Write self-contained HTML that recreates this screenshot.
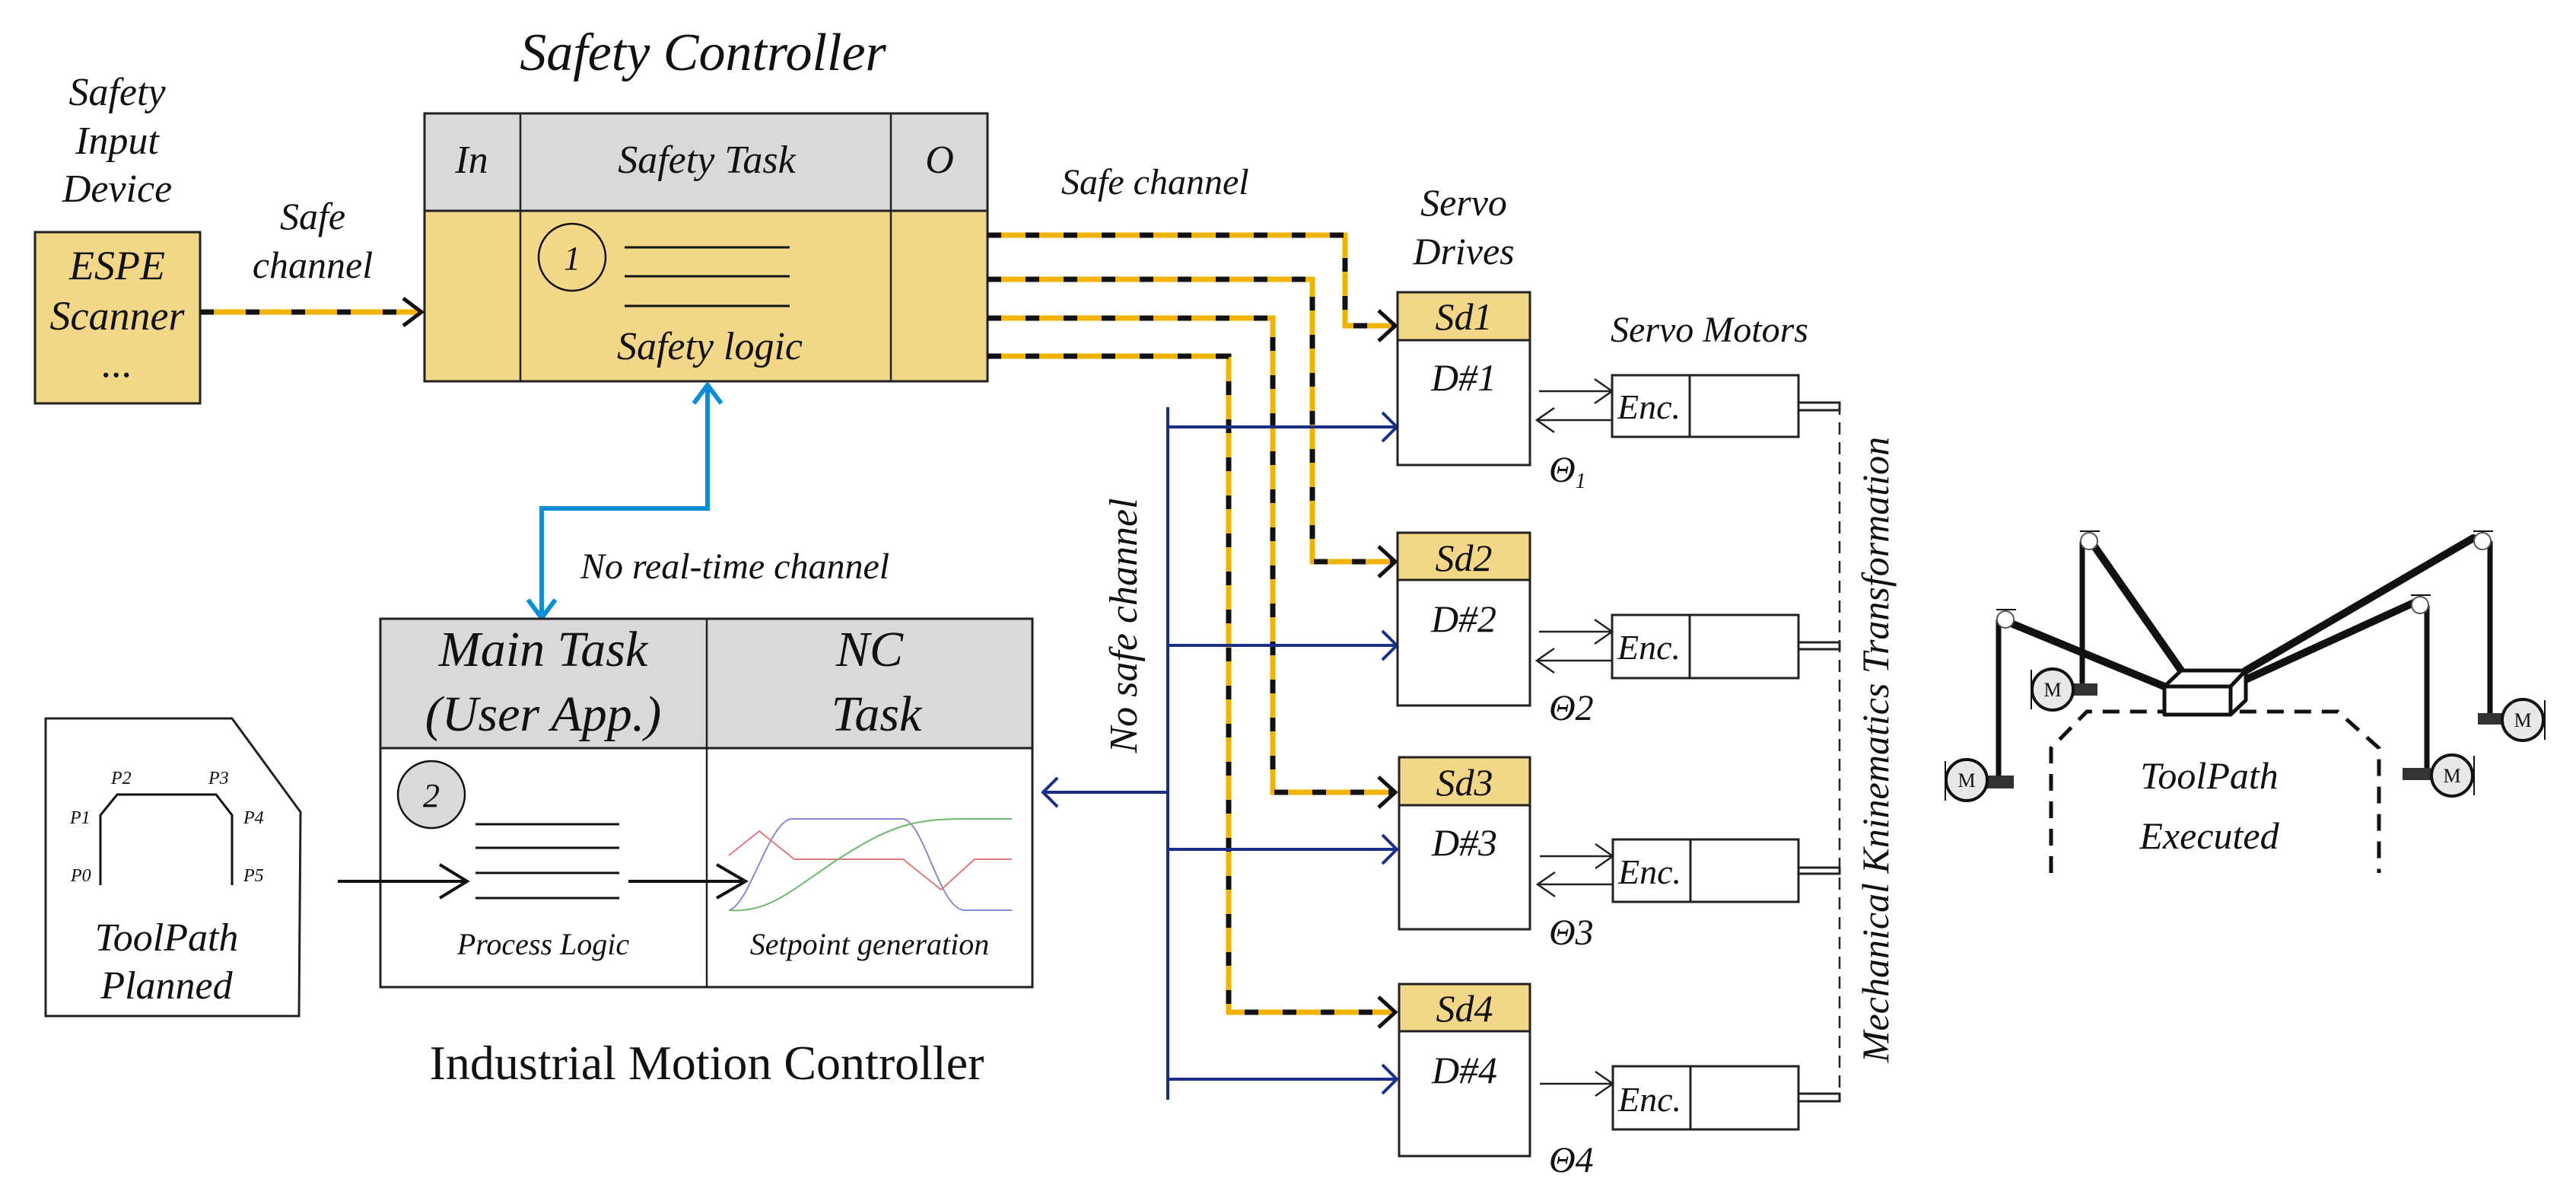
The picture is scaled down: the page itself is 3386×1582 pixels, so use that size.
<!DOCTYPE html>
<html><head><meta charset="utf-8"><style>
html,body{margin:0;padding:0;background:#fff}
svg{display:block}
text{font-family:"Liberation Serif",serif;font-style:italic;fill:#111}
text.up{font-style:normal}
</style></head><body>
<svg width="3386" height="1582" viewBox="0 0 3386 1582" xmlns="http://www.w3.org/2000/svg">

<!-- Safety Input Device -->
<g font-size="52" text-anchor="middle">
<text x="154" y="138">Safety</text><text x="154" y="202">Input</text><text x="154" y="265">Device</text>
</g>
<rect x="46" y="305" width="217" height="225" fill="#f3d788" stroke="#222" stroke-width="3"/>
<g font-size="54" text-anchor="middle">
<text x="154" y="367">ESPE</text><text x="154" y="433">Scanner</text><text x="154" y="495">...</text>
</g>
<g font-size="50" text-anchor="middle"><text x="411" y="301">Safe</text><text x="411" y="365">channel</text></g>

<line x1="263" y1="410" x2="552" y2="410" stroke="#f0b400" stroke-width="7"/>
<line x1="263" y1="410" x2="552" y2="410" stroke="#111" stroke-width="7" stroke-dasharray="18 42"/>
<path d="M530,392 L554,410 L530,428" fill="none" stroke="#111" stroke-width="5"/>

<!-- Safety controller -->
<text x="924" y="92" font-size="70" text-anchor="middle">Safety Controller</text>
<rect x="558" y="149" width="740" height="128" fill="#d9d9d9"/>
<rect x="558" y="277" width="740" height="224" fill="#f3d788"/>
<rect x="558" y="149" width="740" height="352" fill="none" stroke="#222" stroke-width="3"/>
<line x1="558" y1="277" x2="1298" y2="277" stroke="#222" stroke-width="3"/>
<line x1="684" y1="149" x2="684" y2="501" stroke="#222" stroke-width="2.5"/>
<line x1="1171" y1="149" x2="1171" y2="501" stroke="#222" stroke-width="2.5"/>
<g font-size="52" text-anchor="middle">
<text x="620" y="227">In</text><text x="929" y="227">Safety Task</text><text x="1235" y="227">O</text>
<text x="933" y="472">Safety logic</text>
</g>
<circle cx="752" cy="338" r="44" fill="none" stroke="#111" stroke-width="2.5"/>
<text x="752" y="354" font-size="44" text-anchor="middle">1</text>
<g stroke="#111" stroke-width="3"><line x1="821" y1="325" x2="1038" y2="325"/><line x1="821" y1="363" x2="1038" y2="363"/><line x1="821" y1="402" x2="1038" y2="402"/></g>

<polyline points="930,508 930,668 712,668 712,806" fill="none" stroke="#0a8fd6" stroke-width="6"/>
<path d="M912,530 L930,506 L948,530" fill="none" stroke="#0a8fd6" stroke-width="6"/>
<path d="M694,788 L712,812 L730,788" fill="none" stroke="#0a8fd6" stroke-width="6"/>
<text x="763" y="760" font-size="48">No real-time channel</text>

<!-- Industrial motion controller -->
<rect x="500" y="813" width="857" height="170" fill="#d9d9d9"/>
<rect x="500" y="813" width="857" height="484" fill="none" stroke="#222" stroke-width="3"/>
<line x1="500" y1="983" x2="1357" y2="983" stroke="#222" stroke-width="3"/>
<line x1="929" y1="813" x2="929" y2="1297" stroke="#222" stroke-width="2.5"/>
<g font-size="66" text-anchor="middle">
<text x="714" y="875">Main Task</text><text x="714" y="960">(User App.)</text>
<text x="1143" y="875">NC</text><text x="1152" y="960">Task</text>
</g>
<circle cx="567" cy="1044" r="44" fill="#d9d9d9" stroke="#111" stroke-width="2.5"/>
<text x="567" y="1060" font-size="44" text-anchor="middle">2</text>
<g stroke="#111" stroke-width="3"><line x1="625" y1="1083" x2="814" y2="1083"/><line x1="625" y1="1114" x2="814" y2="1114"/><line x1="625" y1="1147" x2="814" y2="1147"/><line x1="625" y1="1180" x2="814" y2="1180"/></g>
<line x1="444" y1="1158" x2="612" y2="1158" stroke="#111" stroke-width="4"/>
<path d="M578,1136 L614,1158 L578,1180" fill="none" stroke="#111" stroke-width="4"/>
<line x1="826" y1="1158" x2="978" y2="1158" stroke="#111" stroke-width="4"/>
<path d="M942,1136 L980,1158 L942,1180" fill="none" stroke="#111" stroke-width="4"/>
<g font-size="40" text-anchor="middle"><text x="714" y="1254">Process Logic</text><text x="1143" y="1254">Setpoint generation</text></g>
<polyline points="958,1124 998,1092 1044,1129 1187,1129 1237,1169 1281,1129 1330,1129" fill="none" stroke="#e07a7a" stroke-width="2"/>
<path d="M958,1196 C985,1190 1010,1080 1040,1076 L1187,1076 C1215,1080 1235,1196 1268,1196 L1330,1196" fill="none" stroke="#8888cc" stroke-width="2"/>
<path d="M958,1196 C1010,1200 1040,1170 1100,1130 C1170,1085 1200,1076 1268,1076 L1330,1076" fill="none" stroke="#6cb86c" stroke-width="2"/>
<text class="up" x="929" y="1418" font-size="64" text-anchor="middle">Industrial Motion Controller</text>

<!-- ToolPath planned -->
<polygon points="60,944 305,944 395,1067 393,1335 60,1335" fill="#fff" stroke="#222" stroke-width="3"/>
<polyline points="132,1163 132,1071 154,1044 284,1044 305,1071 305,1163" fill="none" stroke="#111" stroke-width="3"/>
<g font-size="24"><text x="146" y="1030">P2</text><text x="274" y="1030">P3</text><text x="92" y="1082">P1</text><text x="320" y="1082">P4</text><text x="93" y="1158">P0</text><text x="320" y="1158">P5</text></g>
<g font-size="52" text-anchor="middle"><text x="219" y="1249">ToolPath</text><text x="219" y="1312">Planned</text></g>

<!-- Safe channels to drives -->
<text x="1395" y="255" font-size="48">Safe channel</text>
<g fill="none" stroke-width="7">
<g stroke="#f0b400">
<polyline points="1298,309 1768,309 1768,428 1830,428"/>
<polyline points="1298,367 1725,367 1725,738 1830,738"/>
<polyline points="1298,418 1673,418 1673,1041 1830,1041"/>
<polyline points="1298,468 1615,468 1615,1330 1830,1330"/>
</g>
<g stroke="#111" stroke-dasharray="18 32">
<polyline points="1298,309 1768,309 1768,428 1830,428"/>
<polyline points="1298,367 1725,367 1725,738 1830,738"/>
<polyline points="1298,418 1673,418 1673,1041 1830,1041"/>
<polyline points="1298,468 1615,468 1615,1330 1830,1330"/>
</g>
</g>
<g fill="none" stroke="#111" stroke-width="5">
<path d="M1812,408 L1834,428 L1812,448"/><path d="M1812,718 L1834,738 L1812,758"/>
<path d="M1812,1021 L1834,1041 L1812,1061"/><path d="M1812,1310 L1834,1330 L1812,1350"/>
</g>

<!-- blue bus -->
<g stroke="#1a2f8a" stroke-width="4" fill="none">
<line x1="1535" y1="535" x2="1535" y2="1445"/>
<line x1="1535" y1="561" x2="1835" y2="561"/><path d="M1817,542 L1836,561 L1817,580"/>
<line x1="1535" y1="848" x2="1835" y2="848"/><path d="M1817,829 L1836,848 L1817,867"/>
<line x1="1535" y1="1116" x2="1835" y2="1116"/><path d="M1817,1097 L1836,1116 L1817,1135"/>
<line x1="1535" y1="1418" x2="1835" y2="1418"/><path d="M1817,1399 L1836,1418 L1817,1437"/>
<line x1="1535" y1="1041" x2="1372" y2="1041"/><path d="M1390,1022 L1371,1041 L1390,1060"/>
</g>
<text transform="translate(1494,822) rotate(-90)" font-size="52" text-anchor="middle">No safe channel</text>

<!-- Drives -->
<g font-size="50" text-anchor="middle"><text x="1924" y="283">Servo</text><text x="1924" y="347">Drives</text></g>
<text x="2247" y="449" font-size="48" text-anchor="middle">Servo Motors</text>
<g stroke="#222" stroke-width="3">
<rect x="1837" y="384" width="174" height="63" fill="#f3d788"/><rect x="1837" y="447" width="174" height="164" fill="#fff"/>
<rect x="1837" y="700" width="174" height="62" fill="#f3d788"/><rect x="1837" y="762" width="174" height="165" fill="#fff"/>
<rect x="1839" y="995" width="172" height="63" fill="#f3d788"/><rect x="1839" y="1058" width="172" height="163" fill="#fff"/>
<rect x="1839" y="1293" width="172" height="62" fill="#f3d788"/><rect x="1839" y="1355" width="172" height="164" fill="#fff"/>
</g>
<g font-size="50" text-anchor="middle">
<text x="1924" y="433">Sd1</text><text x="1924" y="513">D#1</text>
<text x="1924" y="750">Sd2</text><text x="1924" y="830">D#2</text>
<text x="1925" y="1045">Sd3</text><text x="1925" y="1124">D#3</text>
<text x="1925" y="1342">Sd4</text><text x="1925" y="1423">D#4</text>
</g>
<g font-size="48"><text x="2036" y="633">Θ<tspan font-size="28" dy="8">1</tspan></text><text x="2036" y="946">Θ2</text><text x="2036" y="1241">Θ3</text><text x="2036" y="1540">Θ4</text></g>

<!-- Motors -->
<g stroke="#222" stroke-width="3" fill="#fff">
<rect x="2119" y="493" width="245" height="81"/><line x1="2221" y1="493" x2="2221" y2="574"/><rect x="2364" y="529" width="54" height="10"/>
<rect x="2119" y="808" width="245" height="83"/><line x1="2221" y1="808" x2="2221" y2="891"/><rect x="2364" y="844" width="54" height="9"/>
<rect x="2120" y="1103" width="244" height="82"/><line x1="2222" y1="1103" x2="2222" y2="1185"/><rect x="2364" y="1140" width="54" height="8"/>
<rect x="2120" y="1401" width="244" height="83"/><line x1="2222" y1="1401" x2="2222" y2="1484"/><rect x="2364" y="1437" width="54" height="10"/>
</g>
<g font-size="46"><text x="2126" y="550">Enc.</text><text x="2126" y="866">Enc.</text><text x="2127" y="1161">Enc.</text><text x="2127" y="1460">Enc.</text></g>
<g stroke="#222" stroke-width="2.5" fill="none">
<line x1="2023" y1="514" x2="2119" y2="514"/><path d="M2096,498 L2119,514 L2096,530"/>
<line x1="2020" y1="552" x2="2119" y2="552"/><path d="M2043,536 L2020,552 L2043,568"/>
<line x1="2023" y1="830" x2="2119" y2="830"/><path d="M2096,814 L2119,830 L2096,846"/>
<line x1="2020" y1="868" x2="2119" y2="868"/><path d="M2043,852 L2020,868 L2043,884"/>
<line x1="2024" y1="1125" x2="2120" y2="1125"/><path d="M2097,1109 L2120,1125 L2097,1141"/>
<line x1="2021" y1="1162" x2="2120" y2="1162"/><path d="M2044,1146 L2021,1162 L2044,1178"/>
<line x1="2024" y1="1424" x2="2120" y2="1424"/><path d="M2097,1408 L2120,1424 L2097,1440"/>
</g>
<line x1="2418" y1="529" x2="2418" y2="1442" stroke="#222" stroke-width="2.5" stroke-dasharray="16 10"/>
<text transform="translate(2482,985) rotate(-90)" font-size="50" text-anchor="middle">Mechanical Kninematics Transformation</text>

<!-- Robot -->
<g stroke="#111" stroke-width="10" stroke-linecap="round">
<line x1="2751" y1="715" x2="2867" y2="881"/>
<line x1="2641" y1="818" x2="2845" y2="902"/>
<line x1="3251" y1="707" x2="2952" y2="881"/>
<line x1="3175" y1="791" x2="2932" y2="902"/>
</g>
<g stroke="#111" stroke-width="7">
<line x1="2737" y1="711" x2="2737" y2="902"/>
<line x1="2627" y1="814" x2="2627" y2="1025"/>
<line x1="3273" y1="711" x2="3273" y2="944"/>
<line x1="3190" y1="795" x2="3190" y2="1017"/>
</g>
<g fill="#fff" stroke="#555" stroke-width="2">
<circle cx="2746" cy="711" r="11"/><circle cx="2636" cy="814" r="11"/><circle cx="3263" cy="711" r="11"/><circle cx="3181" cy="795" r="11"/>
</g>
<g stroke="#111" stroke-width="2">
<line x1="2734" y1="698" x2="2760" y2="698"/><line x1="2624" y1="801" x2="2650" y2="801"/><line x1="3251" y1="698" x2="3277" y2="698"/><line x1="3169" y1="782" x2="3195" y2="782"/>
<line x1="2670" y1="880" x2="2670" y2="932"/><line x1="2557" y1="1000" x2="2557" y2="1052"/><line x1="3345" y1="920" x2="3345" y2="972"/><line x1="3252" y1="993" x2="3252" y2="1045"/>
</g>
<g fill="#333"><rect x="2723" y="898" width="34" height="16"/><rect x="2610" y="1019" width="37" height="17"/><rect x="3257" y="937" width="34" height="15"/><rect x="3158" y="1009" width="37" height="16"/></g>
<g fill="#e8e8e8" stroke="#111" stroke-width="4">
<circle cx="2698" cy="906" r="27"/><circle cx="2585" cy="1025" r="27"/><circle cx="3316" cy="946" r="27"/><circle cx="3223" cy="1019" r="27"/>
</g>
<g font-size="26" text-anchor="middle">
<text class="up" x="2698" y="915">M</text><text class="up" x="2585" y="1034">M</text><text class="up" x="3316" y="955">M</text><text class="up" x="3223" y="1028">M</text>
</g>
<polyline points="2696,1147 2696,983 2743,935 3073,935 3127,983 3127,1147" fill="none" stroke="#111" stroke-width="5" stroke-dasharray="22 14"/>
<g fill="#fff" stroke="#111" stroke-width="5" stroke-linejoin="round">
<polygon points="2845,902 2867,881 2952,881 2932,902"/>
<polygon points="2932,902 2952,881 2952,920 2932,939"/>
<rect x="2845" y="902" width="87" height="37"/>
</g>
<g font-size="50" text-anchor="middle"><text x="2904" y="1036">ToolPath</text><text x="2904" y="1115">Executed</text></g>
</svg>
</body></html>
